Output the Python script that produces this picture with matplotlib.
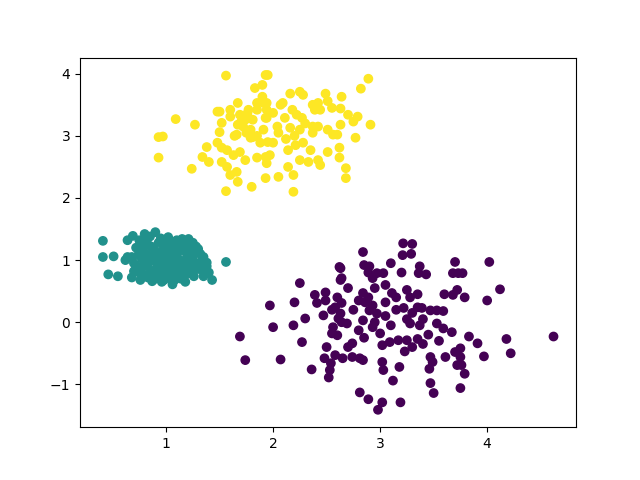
import numpy as np
import matplotlib
matplotlib.use("Agg")
import matplotlib.pyplot as plt

# Cluster 0 (purple)
c0 = [
    (3.215, 1.27), (3.3, 1.26), (2.84, 1.13), (3.21, 1.08), (3.29, 1.1), (3.1, 0.95), (2.85, 0.92), (2.9, 0.9),
    (2.89, 0.8), (2.97, 0.79), (3.03, 0.79), (2.93, 0.71), (3.2, 0.8), (3.37, 0.9), (3.36, 0.79), (3.43, 0.77),
    (3.7, 0.97), (3.68, 0.79), (3.73, 0.79), (2.63, 0.87), (2.64, 0.71), (2.84, 0.47), (2.89, 0.4), (2.86, 0.32),
    (2.93, 0.27), (2.9, 0.19), (2.97, 0.14), (3.11, 0.47), (3.05, 0.32), (3.25, 0.52), (3.28, 0.4), (3.22, 0.23),
    (3.35, 0.24), (3.39, 0.23), (3.47, 0.19), (3.53, 0.19), (3.59, 0.18), (3.68, 0.44), (3.72, 0.52), (2.64, 0.31),
    (2.63, 0.14), (2.84, 0.03), (4.02, 0.97), (3.77, 0.79), (3.79, 0.4), (4.0, 0.35), (4.12, 0.53),
    (2.62, 0.89), (2.63, 0.68), (2.25, 0.63), (1.97, 0.27), (2.2, 0.32), (2.39, 0.44), (2.49, 0.48), (2.41, 0.31),
    (2.49, 0.35), (2.58, 0.24), (2.47, 0.11), (2.3, 0.06), (2.0, -0.08), (2.19, -0.05), (2.61, 0.06),
    (1.69, -0.23), (2.27, -0.32), (1.74, -0.61), (2.07, -0.6), (2.36, -0.76), (2.5, -0.4), (2.48, -0.58),
    (2.58, -0.53), (2.54, -0.66), (2.53, -0.77), (2.52, -0.89), (2.56, -0.08), (2.55, -0.18), (2.6, -0.21),
    (2.65, -0.58), (2.64, 0.0), (2.69, -0.02), (2.74, -0.34), (2.8, -0.13), (2.93, -0.08), (3.0, -0.18),
    (3.02, -0.37), (3.09, -0.32), (3.17, -0.29), (3.25, -0.29), (3.35, -0.27), (3.23, -0.47), (3.28, -0.02),
    (3.37, -0.05), (3.53, -0.02), (3.59, -0.1), (3.67, -0.16), (2.74, -0.56), (2.81, -0.58), (2.84, -0.61),
    (3.02, -0.64), (3.03, -0.77), (3.18, -0.72), (3.12, -0.94), (2.81, -1.13), (2.89, -1.24), (3.02, -1.29),
    (2.98, -1.41), (3.19, -1.29), (3.47, -0.56), (3.49, -0.64), (3.46, -0.75), (3.61, -0.56), (3.7, -0.48),
    (3.72, -0.69), (3.47, -0.98), (3.5, -1.14), (3.75, -1.06), (3.83, -0.23), (3.91, -0.34), (4.18, -0.27),
    (4.62, -0.23), (3.75, -0.42), (3.75, -0.56), (3.76, -0.69), (3.79, -0.83), (3.97, -0.55), (4.22, -0.5),
    (2.75, 0.2), (2.8, 0.35), (2.95, 0.0), (3.05, 0.1), (3.1, -0.05), (3.15, 0.2), (3.25, 0.05), (3.3, 0.15),
    (3.4, 0.05), (3.45, -0.2), (3.3, -0.4), (3.4, -0.35), (3.55, -0.3), (2.7, 0.55), (2.6, 0.4), (2.55, 0.2),
    (3.6, 0.45), (3.35, 0.45), (3.05, 0.6), (2.95, 0.55), (3.15, 0.4), (2.85, -0.25), (2.7, -0.4),
]

# Cluster 1 (teal)
c1 = [
    (0.41, 1.31), (0.41, 1.05), (0.51, 1.06), (0.46, 0.77), (0.55, 0.74), (1.56, 0.97), (1.43, 0.68), (1.35, 0.74),
    (1.18, 0.65), (0.96, 0.65), (0.87, 0.66), (0.76, 0.68), (0.68, 0.72), (0.64, 1.05), (0.64, 1.32), (0.69, 1.39),
    (0.8, 1.42), (0.9, 1.45), (1.02, 1.37), (1.15, 1.34), (1.21, 1.34), (1.3, 1.18), (1.35, 1.05), (1.3, 0.89),
    (1.06, 0.61), (1.08, 0.68), (0.62, 1.0), (0.68, 1.05), (0.72, 1.2), (0.75, 1.32), (0.8, 1.25), (0.85, 1.38),
    (0.95, 1.35), (1.0, 1.3), (1.05, 1.28), (1.1, 1.32), (1.25, 1.28), (1.32, 1.1), (1.38, 0.9), (1.32, 0.85),
    (1.25, 0.8), (1.2, 0.78), (1.1, 0.75), (1.05, 0.7), (0.98, 0.68), (0.9, 0.7), (0.8, 0.75), (0.75, 0.8),
    (0.72, 0.9), (0.7, 0.95), (0.78, 1.0), (0.82, 1.1), (0.88, 1.0), (0.95, 1.05), (1.0, 1.1), (1.05, 0.95),
    (1.1, 1.05), (1.15, 1.15), (1.2, 1.0), (1.25, 1.05), (1.18, 0.9), (1.12, 0.85), (1.0, 0.85), (0.92, 0.9),
    (0.85, 0.85), (0.8, 0.92), (0.98, 1.2), (1.08, 1.18), (1.22, 1.15), (0.9, 1.15), (0.82, 1.3), (1.03, 0.78),
    (1.28, 0.95), (1.4, 0.8), (1.15, 0.95), (0.95, 0.95), (0.93, 0.8), (1.07, 1.1),
    (0.86, 1.22), (0.93, 1.28), (1.12, 1.24), (1.18, 1.22), (1.27, 1.12), (1.33, 0.98), (1.24, 0.9),
    (1.16, 0.82), (1.08, 0.88), (0.97, 0.76), (0.88, 0.78), (0.77, 0.86), (0.74, 1.08), (0.84, 0.97),
    (0.91, 1.08), (1.02, 1.02), (1.13, 1.0), (1.2, 1.08), (1.05, 1.2), (0.97, 1.14), (0.86, 1.06),
    (0.95, 0.87), (1.08, 0.82), (1.22, 0.85), (1.36, 0.83), (0.78, 1.16), (1.0, 0.93), (1.12, 0.92),
    (1.28, 1.22), (1.38, 0.96), (0.7, 0.82), (1.14, 0.7), (1.26, 0.74), (0.83, 0.72),
]

# Cluster 2 (yellow)
c2 = [
    (1.56, 3.97), (1.93, 3.98), (1.95, 3.98), (1.9, 3.82), (1.83, 3.77), (1.67, 3.53), (1.85, 3.53), (1.91, 3.53),
    (1.09, 3.27), (1.27, 3.18), (0.93, 2.98), (1.48, 3.39), (1.5, 3.39), (1.6, 3.42), (1.6, 3.31), (1.52, 3.21),
    (1.69, 3.34), (1.77, 3.42), (1.85, 3.42), (1.74, 3.26), (1.81, 3.26), (1.67, 3.18), (1.79, 3.1), (1.91, 3.1),
    (1.5, 3.06), (1.64, 3.0), (1.81, 2.98), (1.93, 3.29), (1.94, 3.42),
    (2.89, 3.92), (2.82, 3.76), (2.16, 3.68), (2.25, 3.71), (2.28, 3.66), (2.49, 3.68), (2.64, 3.63), (2.51, 3.56),
    (2.37, 3.5), (2.42, 3.53), (2.39, 3.42), (2.44, 3.42), (2.55, 3.45), (2.63, 3.44), (2.07, 3.5), (2.09, 3.53),
    (1.94, 3.53), (1.9, 3.63), (2.7, 3.34), (2.79, 3.31), (2.75, 3.23), (2.91, 3.18), (2.63, 3.18), (2.18, 3.42),
    (2.0, 3.37), (1.94, 3.29), (2.11, 3.29), (2.22, 3.34), (2.27, 3.29), (2.04, 3.15), (2.16, 3.13), (2.25, 3.1),
    (2.37, 3.15), (2.42, 3.15), (2.51, 3.1), (2.6, 3.02), (2.77, 2.97),
    (0.93, 2.65), (1.24, 2.47), (1.38, 2.82), (1.34, 2.66), (1.4, 2.58), (1.48, 2.89), (1.52, 2.81), (1.57, 2.77),
    (1.52, 2.58), (1.57, 2.5), (1.6, 2.37), (1.66, 2.42), (1.67, 2.26), (1.8, 2.18), (1.56, 2.11), (1.63, 2.69),
    (1.69, 2.74), (1.74, 2.61), (1.85, 2.65), (1.93, 2.66), (1.93, 2.32), (1.66, 3.02), (1.79, 2.97), (1.88, 2.89),
    (2.51, 2.74), (2.62, 2.81), (2.62, 2.65), (2.44, 2.53), (2.42, 2.61), (2.33, 2.58), (2.25, 2.61), (2.14, 2.77),
    (2.14, 2.5), (1.97, 2.69), (1.94, 2.56), (2.05, 2.34), (2.19, 2.37), (2.19, 2.1), (2.68, 2.48), (2.68, 2.32),
    (2.28, 2.89), (2.0, 2.89), (2.37, 3.05), (2.56, 3.02), (2.21, 2.85), (2.35, 2.77),
    (1.75, 3.05), (1.85, 3.0), (2.05, 3.05), (2.3, 3.2), (2.2, 3.0), (2.12, 2.95), (1.95, 2.9),
    (0.97, 2.99), (1.72, 3.15), (1.76, 3.36), (1.7, 3.22),
]

pts = np.array(c0 + c1 + c2)
labels = np.array([0] * len(c0) + [1] * len(c1) + [2] * len(c2))

fig, ax = plt.subplots(figsize=(6.4, 4.8), dpi=100)
ax.scatter(pts[:, 0], pts[:, 1], c=labels, cmap="viridis")
ax.set_xlim(0.196, 4.83)
ax.set_ylim(-1.69, 4.26)
ax.set_xticks([1, 2, 3, 4])
fig.savefig("out.png", dpi=100)
